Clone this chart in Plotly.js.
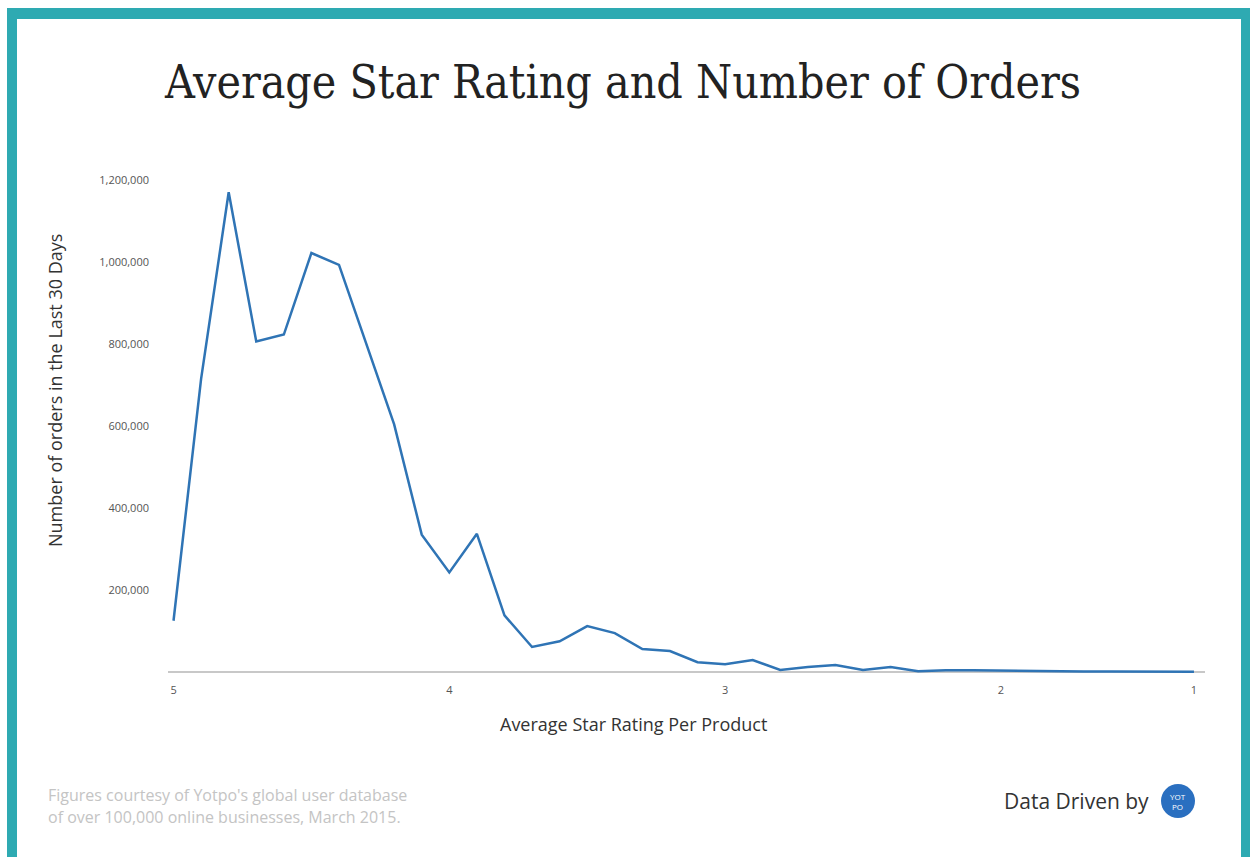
<!DOCTYPE html>
<html>
<head>
<meta charset="utf-8">
<script src="https://cdn.plot.ly/plotly-3.0.1.min.js"></script>
<style>
  html, body { margin: 0; padding: 0; background: #ffffff; width: 1250px; height: 857px; overflow: hidden; }
  #frame { position: absolute; left: 7px; top: 8px; width: 1243px; height: 849px; box-sizing: border-box;
           border-left: 10px solid #2eaab2; border-top: 11px solid #2eaab2; border-right: 9px solid #2eaab2; }
  #chart { position: absolute; left: 0; top: 0; width: 1250px; height: 857px; }
</style>
</head>
<body>
<div id="frame"></div>
<div id="chart"></div>
<script>
// Average star rating per product (category labels, left to right)
const ratings = ["5.0","4.9","4.8","4.7","4.6","4.5","4.4","4.3","4.2","4.1",
                 "4.0","3.9","3.8","3.7","3.6","3.5","3.4","3.3","3.2","3.1",
                 "3.0","2.9","2.8","2.7","2.6","2.5","2.4","2.3","2.2","2.1",
                 "2.0","1.9","1.8","1.7","1.6","1.5","1.3","1.0"];
// Number of orders in the last 30 days
const orders = [125000, 715000, 1170000, 806000, 823000, 1022000, 993000, 798000, 604000, 335000,
                243000, 337000, 138000, 61000, 75000, 112000, 95000, 56000, 51000, 24000,
                19000, 29000, 5000, 12000, 17000, 5000, 12000, 2000, 4000, 4000,
                3000, 1500, 1500, 1000, 1000, 1000, 800, 500];
// Tick labels
const xTickVals = ["5.0","4.0","3.0","2.0","1.0"];
const xTickText = ["5","4","3","2","1"];
const yTickVals = [200000, 400000, 600000, 800000, 1000000, 1200000];
const yTickText = ["200,000","400,000","600,000","800,000","1,000,000","1,200,000"];

const W = 1250, H = 857, ML = 168, MR = 45, MT = 172, MB = 181;
const PW = W - ML - MR, PH = H - MT - MB;
const px = x => (x - ML) / PW;
const py = y => (H - MB - y) / PH;

const trace = {
  x: ratings, y: orders, type: 'scatter', mode: 'lines',
  line: { color: '#2f74b5', width: 2.5 }, hoverinfo: 'x+y'
};

const font = "'Open Sans', 'Noto Sans', sans-serif";

const layout = {
  width: W, height: H,
  margin: { l: ML, r: MR, t: MT, b: MB, pad: 0 },
  paper_bgcolor: 'rgba(0,0,0,0)', plot_bgcolor: 'rgba(0,0,0,0)',
  showlegend: false,
  title: {
    text: 'Average Star Rating and Number of Orders',
    font: { family: "'DejaVu Serif Condensed', 'DejaVu Serif', serif", size: 46, color: '#222222' },
    x: 623 / W, xanchor: 'center', y: 1 - 82 / H, yanchor: 'middle', xref: 'container', yref: 'container'
  },
  xaxis: {
    type: 'category', range: [-0.2, 37.4],
    tickmode: 'array', tickvals: xTickVals, ticktext: xTickText,
    showgrid: false, zeroline: false, showline: false, ticks: '',
    ticklabelstandoff: 6,
    tickfont: { family: font, size: 11, color: '#555555' }
  },
  yaxis: {
    range: [-9756, 1219512],
    tickmode: 'array', tickvals: yTickVals, ticktext: yTickText,
    showgrid: false, showline: false, ticks: '',
    zeroline: true, zerolinecolor: '#c8c8c8', zerolinewidth: 2,
    ticklabelstandoff: 18,
    tickfont: { family: font, size: 11, color: '#555555' }
  },
  shapes: [
    { type: 'circle', xref: 'paper', yref: 'paper',
      x0: px(1161), x1: px(1195), y0: py(818), y1: py(784),
      fillcolor: '#2a6fc0', line: { width: 0 } }
  ],
  annotations: [
    { text: 'Number of orders in the Last 30 Days', xref: 'paper', yref: 'paper',
      x: px(55), y: py(391), xanchor: 'center', yanchor: 'middle', textangle: -90, showarrow: false,
      font: { family: font, size: 18, color: '#333333' } },
    { text: 'Average Star Rating Per Product', xref: 'paper', yref: 'paper',
      x: px(633), y: py(724), xanchor: 'center', yanchor: 'middle', showarrow: false,
      font: { family: font, size: 18, color: '#333333' } },
    { text: "Figures courtesy of Yotpo's global user database", xref: 'paper', yref: 'paper',
      x: px(46), y: py(795), xanchor: 'left', yanchor: 'middle', showarrow: false,
      font: { family: font, size: 16, color: '#c4c4c4' } },
    { text: 'of over 100,000 online businesses, March 2015.', xref: 'paper', yref: 'paper',
      x: px(46), y: py(817), xanchor: 'left', yanchor: 'middle', showarrow: false,
      font: { family: font, size: 16, color: '#c4c4c4' } },
    { text: 'Data Driven by', xref: 'paper', yref: 'paper',
      x: px(1151), y: py(801), xanchor: 'right', yanchor: 'middle', showarrow: false,
      font: { family: font, size: 21, color: '#333333' } },
    { text: 'YOT<br>PO', xref: 'paper', yref: 'paper',
      x: px(1178), y: py(801), xanchor: 'center', yanchor: 'middle', showarrow: false,
      font: { family: font, size: 8, color: '#ffffff' } }
  ]
};

Plotly.newPlot('chart', [trace], layout, { displayModeBar: false, staticPlot: true });
</script>
</body>
</html>
